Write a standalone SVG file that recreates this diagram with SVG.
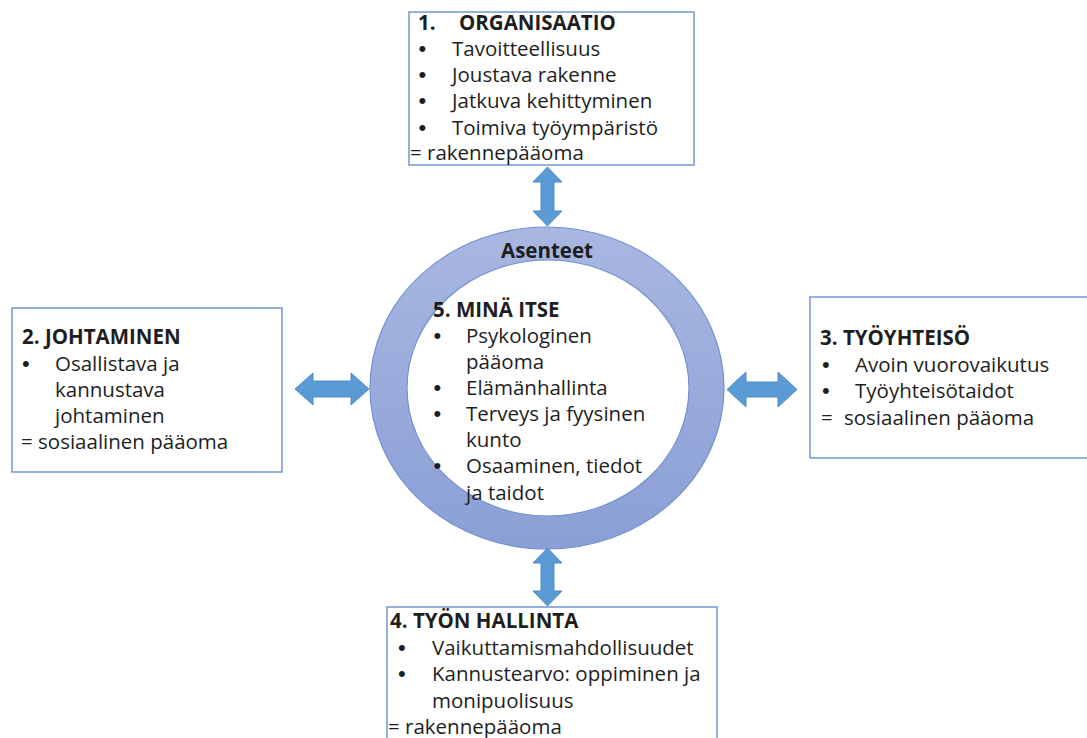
<svg xmlns="http://www.w3.org/2000/svg" width="1087" height="738" viewBox="0 0 1087 738">
<defs>
<linearGradient id="ringGrad" x1="0" y1="0" x2="0" y2="1">
<stop offset="0" stop-color="#a9b7e1"/>
<stop offset="1" stop-color="#8a9fd6"/>
</linearGradient>
<style>
.box{fill:#ffffff;stroke:#7497d4;stroke-width:1.5}
.t{font-family:"Open Sans","Liberation Sans",sans-serif;font-size:20.5px;fill:#1e1e1e}
.b{font-family:"Open Sans","Liberation Sans",sans-serif;font-size:20.5px;font-weight:bold;fill:#1e1e1e}
.bu{font-family:"Liberation Sans",Arial,sans-serif;font-size:22px;fill:#1e1e1e}
.arr{fill:#5b9bd5;stroke:#4f8cc6;stroke-width:1}
</style>
</defs>
<rect width="1087" height="738" fill="#ffffff"/>

<g id="ring">
<path d="M370,388 a177,161 0 1,0 354,0 a177,161 0 1,0 -354,0 Z M407,388 a141,128 0 1,0 282,0 a141,128 0 1,0 -282,0 Z" fill="url(#ringGrad)" fill-rule="evenodd" stroke="#7290d0" stroke-width="1.2"/>
<text class="b" x="547" y="258" text-anchor="middle" font-size="22.5">Asenteet</text>
</g>

<g id="node5">
<text class="b" x="433" y="317">5. MINÄ ITSE</text>
<text class="bu" x="433.6" y="343">•</text><text class="t" x="466" y="343">Psykologinen</text>
<text class="t" x="466" y="369">pääoma</text>
<text class="bu" x="433.6" y="395">•</text><text class="t" x="466" y="395">Elämänhallinta</text>
<text class="bu" x="433.6" y="421">•</text><text class="t" x="466" y="421">Terveys ja fyysinen</text>
<text class="t" x="466" y="447">kunto</text>
<text class="bu" x="433.6" y="473">•</text><text class="t" x="466" y="473">Osaaminen, tiedot</text>
<text class="t" x="466" y="500">ja taidot</text>
</g>

<g id="node1">
<rect class="box" x="409" y="12" width="285" height="153"/>
<text class="b" x="418" y="30">1.</text><text class="b" x="459" y="30">ORGANISAATIO</text>
<text class="bu" x="418.6" y="56">•</text><text class="t" x="452" y="56">Tavoitteellisuus</text>
<text class="bu" x="418.6" y="82">•</text><text class="t" x="452" y="82">Joustava rakenne</text>
<text class="bu" x="418.6" y="108">•</text><text class="t" x="452" y="108">Jatkuva kehittyminen</text>
<text class="bu" x="418.6" y="135">•</text><text class="t" x="452" y="135">Toimiva työympäristö</text>
<text class="t" x="410" y="160">= rakennepääoma</text>
</g>

<g id="node2">
<rect class="box" x="12" y="308" width="270" height="164"/>
<text class="b" x="22" y="344">2. JOHTAMINEN</text>
<text class="bu" x="22" y="371">•</text><text class="t" x="55" y="371">Osallistava ja</text>
<text class="t" x="55" y="397">kannustava</text>
<text class="t" x="55" y="423">johtaminen</text>
<text class="t" x="21" y="449">= sosiaalinen pääoma</text>
</g>

<g id="node3">
<rect class="box" x="810" y="297" width="290" height="161"/>
<text class="b" x="820" y="345">3. TYÖYHTEISÖ</text>
<text class="bu" x="822" y="372">•</text><text class="t" x="855" y="372">Avoin vuorovaikutus</text>
<text class="bu" x="822" y="398">•</text><text class="t" x="855" y="398">Työyhteisötaidot</text>
<text class="t" x="821" y="425">=</text><text class="t" x="844" y="425">sosiaalinen pääoma</text>
</g>

<g id="node4">
<rect class="box" x="387" y="607" width="330" height="140"/>
<text class="b" x="390" y="628">4. TYÖN HALLINTA</text>
<text class="bu" x="398" y="655">•</text><text class="t" x="432" y="655">Vaikuttamismahdollisuudet</text>
<text class="bu" x="398" y="681">•</text><text class="t" x="432" y="681">Kannustearvo: oppiminen ja</text>
<text class="t" x="432" y="708">monipuolisuus</text>
<text class="t" x="388" y="734">= rakennepääoma</text>
</g>

<g id="connectors">
<polygon class="arr" points="547.5,167 562,182 554,182 554,211 562,211 547.5,226 533,211 541,211 541,182 533,182"/>
<polygon class="arr" points="547.5,548 562,563 554,563 554,591 562,591 547.5,606 533,591 541,591 541,563 533,563"/>
<polygon class="arr" points="295,389 313,373 313,381 351,381 351,373 369,389 351,405 351,397 313,397 313,405"/>
<polygon class="arr" points="727,389.5 746,372 746,382 778,382 778,372 797,389.5 778,407 778,397 746,397 746,407"/>
</g>
</svg>
